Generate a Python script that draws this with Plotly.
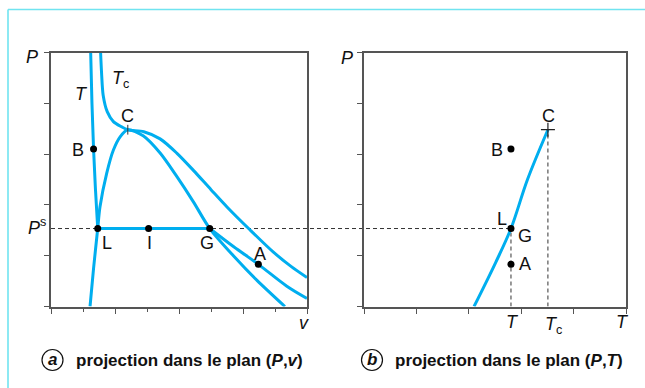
import plotly.graph_objects as go

# ---- values (P in the same arbitrary units on both panels) ----
P_sat = 1.535          # saturation pressure of isotherm T
T_val = 2.805          # isotherm temperature T
T_crit = 3.51          # critical temperature Tc
P_crit = 3.48          # critical pressure
v_crit = 2.40          # critical volume

# isotherm T, liquid branch (v, P)
iso_liq_v = [1.24, 1.28, 1.33, 1.39, 1.46]
iso_liq_p = [5.00, 4.00, 3.10, 2.30, P_sat]
# isotherm T, liquid-vapour plateau
plateau_v = [1.46, 4.96]
plateau_p = [P_sat, P_sat]
# isotherm T, gas branch
iso_gas_v = [4.96, 5.70, 6.48, 7.37, 8.00]
iso_gas_p = [P_sat, 1.18, 0.83, 0.40, 0.16]

# critical isotherm Tc
crit_v = [1.55, 1.58, 1.63, 1.76, 1.95, 2.20, v_crit, 2.90, 3.41, 3.93, 4.45, 5.00, 5.50, 6.20, 6.95, 7.50, 8.00]
crit_p = [5.00, 4.60, 4.16, 3.83, 3.64, 3.54, P_crit, 3.44, 3.30, 3.02, 2.68, 2.30, 1.96, 1.52, 1.07, 0.79, 0.57]

# saturation dome (liquid branch -> C -> vapour branch)
dome_v = [1.22, 1.33, 1.46, 1.53, 1.74, 1.95, 2.16, v_crit, 2.88, 3.41, 3.93, 4.45, 4.96, 5.70, 6.43, 7.31]
dome_p = [0.00, 0.75, P_sat, 1.96, 2.62, 3.08, 3.34, P_crit, 3.36, 3.02, 2.56, 2.06, P_sat, 1.00, 0.52, 0.00]

# named states on the (P,v) plane
pv_pts_v = [1.33, 1.46, 3.05, 4.96, 6.48]
pv_pts_p = [3.10, P_sat, P_sat, P_sat, 0.83]
pv_pts_lbl = ["B", "L", "I", "G", "A"]

# vapour-pressure curve on the (P,T) plane
sat_T = [2.10, 2.51, T_val, 3.12, T_crit]
sat_P = [0.00, 0.86, P_sat, 2.50, P_crit]
pt_pts_T = [T_val, T_val, T_val]
pt_pts_P = [3.10, P_sat, 0.83]

# ---- style ----
BLUE = "#00aeef"
AX = "#555555"
FONT = "Liberation Sans, Arial, sans-serif"
W, H = 645, 388

def px(x):
    return x / W

def py(y):
    return 1 - y / H

xdom1 = [px(51), px(307)]
xdom2 = [px(364), px(626)]
ydom = [py(306.5), py(52.5)]

fig = go.Figure()

line = dict(color=BLUE, width=3)
fig.add_trace(go.Scatter(x=dome_v, y=dome_p, mode="lines", line=dict(shape="spline", smoothing=0.8, **line),
                         xaxis="x", yaxis="y", hoverinfo="skip"))
fig.add_trace(go.Scatter(x=crit_v, y=crit_p, mode="lines", line=dict(shape="spline", smoothing=0.8, **line),
                         xaxis="x", yaxis="y", hoverinfo="skip"))
fig.add_trace(go.Scatter(x=iso_liq_v, y=iso_liq_p, mode="lines", line=dict(shape="spline", **line),
                         xaxis="x", yaxis="y", hoverinfo="skip"))
fig.add_trace(go.Scatter(x=plateau_v, y=plateau_p, mode="lines", line=line,
                         xaxis="x", yaxis="y", hoverinfo="skip"))
fig.add_trace(go.Scatter(x=iso_gas_v, y=iso_gas_p, mode="lines", line=dict(shape="spline", **line),
                         xaxis="x", yaxis="y", hoverinfo="skip"))
# critical point tick
fig.add_trace(go.Scatter(x=[v_crit], y=[P_crit], mode="markers",
                         marker=dict(symbol="line-ns", size=7, line=dict(color="#333", width=1)),
                         xaxis="x", yaxis="y", hoverinfo="skip"))
fig.add_trace(go.Scatter(x=pv_pts_v, y=pv_pts_p, mode="markers",
                         marker=dict(color="black", size=7),
                         xaxis="x", yaxis="y", hoverinfo="skip"))

fig.add_trace(go.Scatter(x=sat_T, y=sat_P, mode="lines", line=dict(shape="spline", **line),
                         xaxis="x2", yaxis="y2", hoverinfo="skip"))
fig.add_trace(go.Scatter(x=[T_crit], y=[P_crit], mode="markers",
                         marker=dict(symbol="cross-thin", size=10, line=dict(color="#222", width=1.2)),
                         xaxis="x2", yaxis="y2", hoverinfo="skip"))
fig.add_trace(go.Scatter(x=pt_pts_T, y=pt_pts_P, mode="markers",
                         marker=dict(color="black", size=7),
                         xaxis="x2", yaxis="y2", hoverinfo="skip"))

axis_common = dict(showline=True, mirror=True, linecolor=AX, linewidth=1.5,
                   showgrid=False, zeroline=False, showticklabels=False,
                   ticks="outside", tickcolor=AX, tickwidth=1.3, fixedrange=True)

fig.update_layout(
    width=W, height=H, margin=dict(l=0, r=0, t=0, b=0),
    paper_bgcolor="white", plot_bgcolor="white", showlegend=False,
    font=dict(family=FONT, size=18, color="#111"),
    xaxis=dict(domain=xdom1, range=[0, 8], tickvals=[0, 2, 4, 6, 8], ticklen=6,
               minor=dict(tickvals=[1, 3, 5, 7], ticklen=4, ticks="outside", tickcolor=AX, tickwidth=1.3),
               anchor="y", **axis_common),
    yaxis=dict(domain=ydom, range=[0, 5], tickvals=[0, 1, 2, 3, 4, 5], ticklen=5,
               anchor="x", **axis_common),
    xaxis2=dict(domain=xdom2, range=[0, 5], tickvals=[0, 1, 2, 3, 4, 5], ticklen=6,
                anchor="y2", **axis_common),
    yaxis2=dict(domain=ydom, range=[0, 5], tickvals=[0, 1, 2, 3, 4, 5], ticklen=5,
                anchor="x2", **axis_common),
)

dash = dict(color="#333", width=1, dash="4px,3px")
# saturation pressure line running from the (P,v) axis to state L on the (P,T) plane
x_end = xdom2[0] + T_val / 5 * (xdom2[1] - xdom2[0])
fig.add_shape(type="line", xref="paper", yref="y", x0=xdom1[0], x1=x_end, y0=P_sat, y1=P_sat,
              line=dash, layer="below")
fig.add_shape(type="line", xref="x2", yref="y2", x0=T_val, x1=T_val, y0=0, y1=P_sat, line=dash, layer="below")
fig.add_shape(type="line", xref="x2", yref="y2", x0=T_crit, x1=T_crit, y0=0, y1=P_crit, line=dash, layer="below")

# outer frame (top and left edges)
frame = dict(color="#70e4f0", width=1.6)
fig.add_shape(type="line", xref="paper", yref="paper", x0=px(8), x1=1.0, y0=py(9.5), y1=py(9.5), line=frame)
fig.add_shape(type="line", xref="paper", yref="paper", x0=px(8), x1=px(8), y0=py(9.5), y1=0, line=frame)

def label(text, x, y, size=18, **kw):
    fig.add_annotation(text=text, xref="paper", yref="paper", x=px(x), y=py(y),
                       showarrow=False, font=dict(size=size, family=FONT, color="#111"),
                       xanchor=kw.pop("xanchor", "center"), yanchor=kw.pop("yanchor", "middle"), **kw)

# left panel labels
label("<i>P</i>", 32, 57)
label("<i>P</i><sup>s</sup>", 37, 226)
label("<i>v</i>", 304, 323)
label("<i>T</i>", 81, 94)
label("<i>T</i><sub>c</sub>", 120, 80)
label("C", 127.5, 116)
for name, (x, y) in zip(pv_pts_lbl, [(78, 150), (107, 243), (149, 243), (207, 243), (260, 254)]):
    label(name, x, y)

# right panel labels
label("<i>P</i>", 347, 58)
label("C", 548, 116)
label("B", 497, 150)
label("L", 502, 219)
label("G", 525, 236)
label("A", 525, 264)
label("<i>T</i>", 512, 322)
label("<i>T</i><sub>c</sub>", 553, 325)
label("<i>T</i>", 622, 322)

# captions
for cx, letter, txt in [(52.5, "a", "projection dans le plan (<i>P</i>,<i>v</i>)"),
                        (372, "b", "projection dans le plan (<i>P</i>,<i>T</i>)")]:
    fig.add_shape(type="circle", xref="paper", yref="paper",
                  x0=px(cx - 10.5), x1=px(cx + 10.5), y0=py(360 + 10.5), y1=py(360 - 10.5),
                  line=dict(color="#111", width=1.2))
    label("<b><i>" + letter + "</i></b>", cx, 359.5, size=17)
    label("<b>" + txt + "</b>", cx + 21, 360, size=17, xanchor="left")

fig.write_html("out.html")
